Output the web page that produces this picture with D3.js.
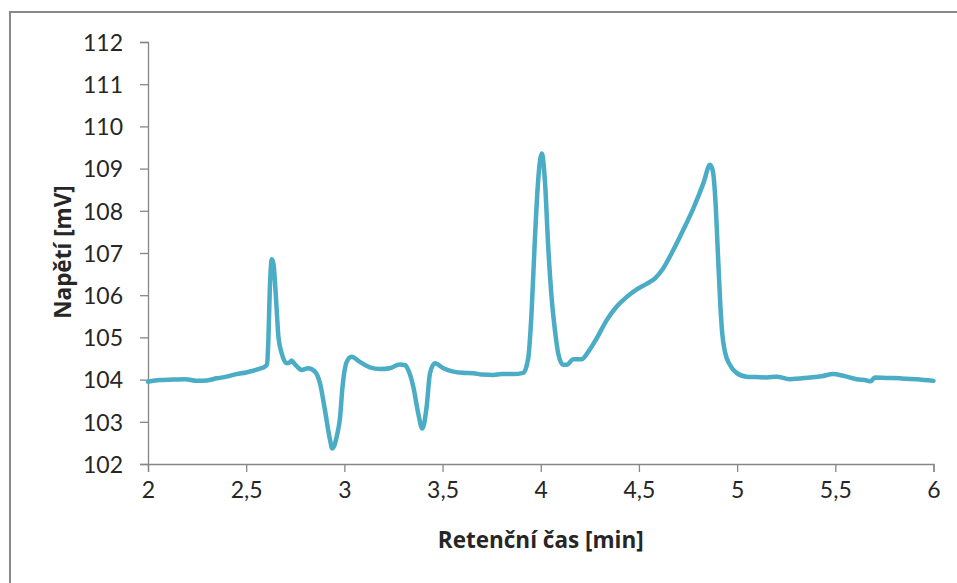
<!DOCTYPE html>
<html>
<head>
<meta charset="utf-8">
<script src="https://cdn.jsdelivr.net/npm/d3@7/dist/d3.min.js"></script>
<style>
  html, body { margin: 0; padding: 0; background: #fff; }
  svg { display: block; }
</style>
</head>
<body>
<svg id="chart" width="957" height="583"></svg>
<script>
// Retention time [min]
const times = [
  2.000, 2.060, 2.129, 2.190, 2.248, 2.300, 2.350, 2.400, 2.450, 2.500, 2.536, 2.570, 2.596, 2.606,
  2.613, 2.620, 2.631, 2.640, 2.647, 2.656, 2.664, 2.681, 2.706, 2.720, 2.731, 2.745, 2.757, 2.783,
  2.800, 2.816, 2.850, 2.876, 2.901, 2.927, 2.938, 2.950, 2.961, 2.978, 2.990, 3.012, 3.036, 3.079,
  3.130, 3.181, 3.232, 3.280, 3.310, 3.325, 3.351, 3.376, 3.397, 3.419, 3.436, 3.461, 3.504, 3.555,
  3.600, 3.657, 3.700, 3.759, 3.800, 3.860, 3.911, 3.936, 3.953, 3.970, 3.987, 4.005, 4.021, 4.038,
  4.055, 4.072, 4.089, 4.114, 4.132, 4.166, 4.208, 4.242, 4.285, 4.336, 4.387, 4.438, 4.489, 4.539,
  4.582, 4.624, 4.675, 4.726, 4.777, 4.828, 4.862, 4.876, 4.890, 4.902, 4.913, 4.924, 4.938, 4.963, 4.997,
  5.048, 5.100, 5.150, 5.200, 5.268, 5.370, 5.430, 5.489, 5.540, 5.608, 5.660, 5.680, 5.701, 5.760, 5.829,
  5.914, 6.000
];

// Detector voltage [mV]
const voltages = [
  103.95, 103.99, 104.00, 104.01, 103.97, 103.98, 104.03, 104.07, 104.13, 104.17, 104.21, 104.26, 104.31, 104.36,
  104.94, 106.10, 106.85, 106.70, 106.28, 105.60, 105.02, 104.62, 104.39, 104.40, 104.45, 104.38, 104.32, 104.23,
  104.25, 104.27, 104.19, 103.91, 103.28, 102.57, 102.37, 102.45, 102.65, 103.10, 103.80, 104.42, 104.54, 104.42,
  104.29, 104.25, 104.27, 104.36, 104.34, 104.23, 103.83, 103.20, 102.84, 103.36, 104.15, 104.39, 104.27, 104.19,
  104.16, 104.15, 104.12, 104.11, 104.13, 104.13, 104.16, 104.50, 105.57, 107.31, 108.73, 109.36, 108.73, 107.15,
  105.96, 105.18, 104.62, 104.35, 104.35, 104.48, 104.48, 104.66, 104.98, 105.41, 105.73, 105.96, 106.14, 106.27,
  106.40, 106.64, 107.07, 107.55, 108.06, 108.65, 109.09, 108.95, 108.20, 107.00, 105.90, 105.10, 104.66, 104.35, 104.16,
  104.07, 104.06, 104.05, 104.07, 104.01, 104.05, 104.08, 104.13, 104.09, 104.01, 103.98, 103.96, 104.05, 104.04, 104.03,
  104.01, 103.97
];

const xTicks = [2, 2.5, 3, 3.5, 4, 4.5, 5, 5.5, 6];
const yTicks = [102, 103, 104, 105, 106, 107, 108, 109, 110, 111, 112];

const xTitle = "Retenční čas [min]";
const yTitle = "Napětí [mV]";

const svg = d3.select("#chart");
const plot = { left: 148, right: 933.5, top: 42, bottom: 464 };

const x = d3.scaleLinear().domain([2, 6]).range([plot.left, plot.right]);
const y = d3.scaleLinear().domain([102, 112]).range([plot.bottom, plot.top]);

// outer frame (top and left edges)
svg.append("path")
  .attr("d", "M10,583 L10,12 L957,12")
  .attr("fill", "none")
  .attr("stroke", "#898989")
  .attr("stroke-width", 2);

const fmt = d => String(d).replace(".", ",");

// y axis
const yAxis = svg.append("g")
  .attr("transform", `translate(${plot.left},0)`)
  .call(d3.axisLeft(y).tickValues(yTicks).tickSize(8).tickPadding(17).tickFormat(fmt));

// x axis
const xAxis = svg.append("g")
  .attr("transform", `translate(0,${plot.bottom})`)
  .call(d3.axisBottom(x).tickValues(xTicks).tickSize(8).tickPadding(10).tickFormat(fmt));

[yAxis, xAxis].forEach(g => {
  g.select(".domain").attr("stroke", "#868686").attr("stroke-width", 1.3);
  g.selectAll(".tick line").attr("stroke", "#868686").attr("stroke-width", 1.3);
  g.selectAll(".tick text")
    .style("font-family", "Lato, 'Open Sans', sans-serif")
    .style("font-size", "23px")
    .attr("fill", "#262626");
});
yAxis.selectAll(".tick text").attr("dy", "0.36em");

// axis titles
svg.append("text")
  .attr("x", (plot.left + plot.right) / 2)
  .attr("y", 548)
  .attr("text-anchor", "middle")
  .attr("fill", "#262626")
  .style("font-family", "'Open Sans', Lato, sans-serif")
  .style("font-size", "22.5px")
  .style("font-weight", "bold")
  .text(xTitle);

svg.append("text")
  .attr("transform", `translate(71,${(plot.top + plot.bottom) / 2 - 1}) rotate(-90)`)
  .attr("text-anchor", "middle")
  .attr("fill", "#262626")
  .style("font-family", "'Open Sans', Lato, sans-serif")
  .style("font-size", "22.5px")
  .style("font-weight", "bold")
  .text(yTitle);

// chromatogram trace
const data = times.map((t, i) => [t, voltages[i]]);
const line = d3.line()
  .x(d => x(d[0]))
  .y(d => y(d[1]))
  .curve(d3.curveMonotoneX);

svg.append("path")
  .datum(data)
  .attr("d", line)
  .attr("fill", "none")
  .attr("stroke", "#4bacc6")
  .attr("stroke-width", 4.5)
  .attr("stroke-linejoin", "round")
  .attr("stroke-linecap", "round");
</script>
</body>
</html>
